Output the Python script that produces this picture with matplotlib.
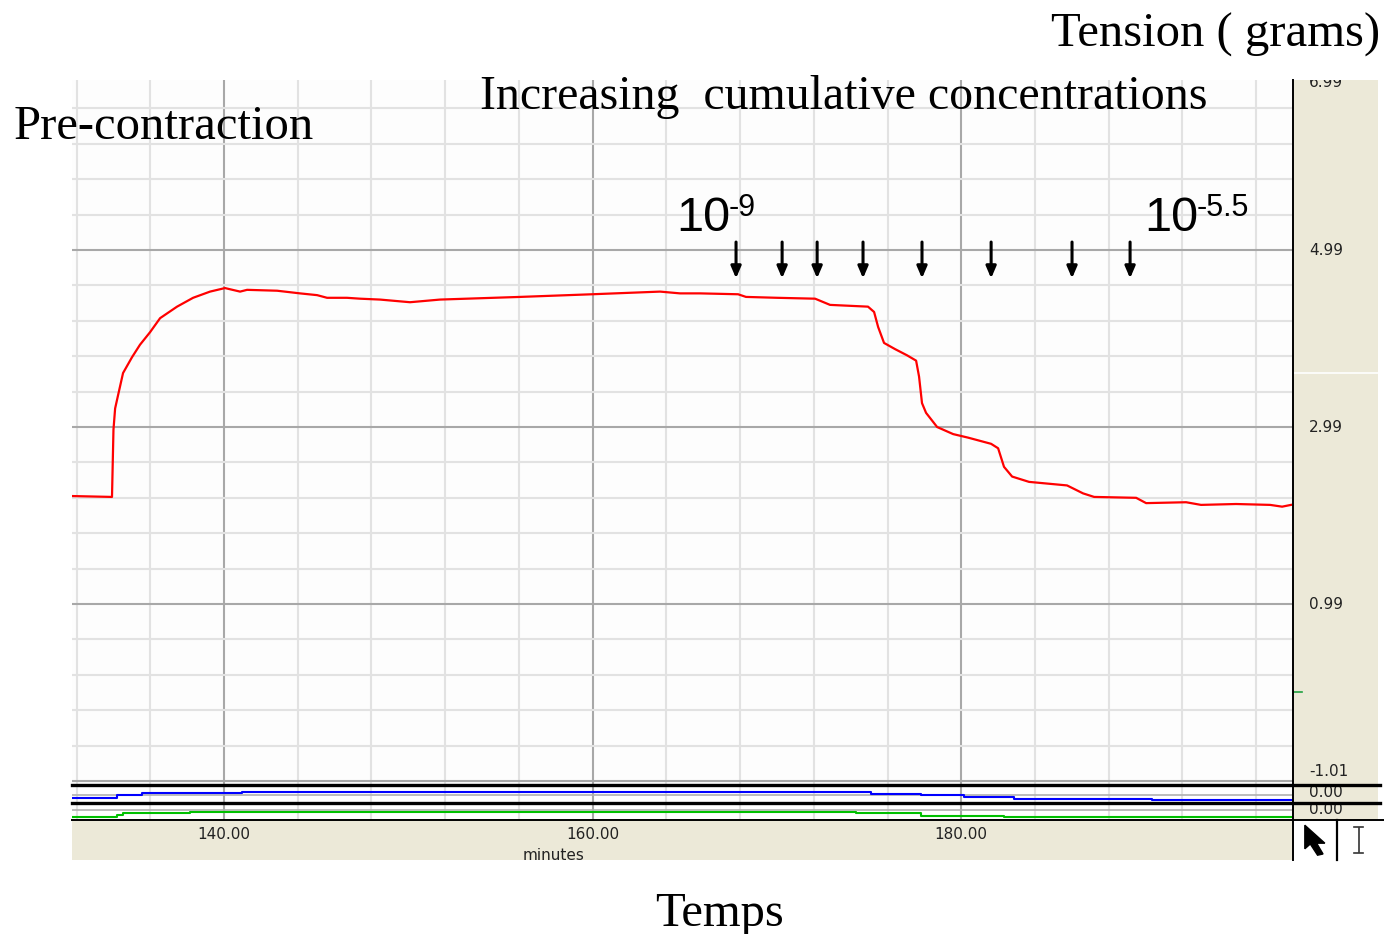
import numpy as np
import matplotlib.pyplot as plt
from matplotlib.lines import Line2D
from matplotlib.patches import Polygon

W, H = 1384, 934

# tension trace (minutes, grams)
t_trace = [131.75, 133.92, 134.00, 134.09, 134.25, 134.52, 135.01, 135.44, 135.98,
           136.53, 137.45, 138.32, 139.24, 140.05, 140.87, 141.25, 142.88, 144.12,
           145.05, 145.59, 146.67, 147.38, 148.46, 150.09, 151.72, 156.06, 159.97,
           163.66, 164.74, 165.83, 167.89, 168.32, 170.01, 172.07, 172.88, 174.94,
           175.27, 175.49, 175.81, 176.41, 177.06, 177.55, 177.71, 177.87, 178.09,
           178.69, 179.56, 180.37, 181.62, 182.00, 182.32, 182.76, 183.68, 185.74,
           186.61, 187.21, 189.49, 190.03, 192.20, 193.01, 194.91, 196.76, 197.41,
           197.89]
tension = [2.21, 2.20, 2.96, 3.20, 3.35, 3.60, 3.78, 3.92, 4.06,
           4.22, 4.35, 4.45, 4.52, 4.56, 4.52, 4.54, 4.53, 4.50,
           4.48, 4.45, 4.45, 4.44, 4.43, 4.40, 4.43, 4.46, 4.49,
           4.52, 4.50, 4.50, 4.49, 4.46, 4.45, 4.44, 4.37, 4.35,
           4.29, 4.12, 3.94, 3.87, 3.80, 3.74, 3.56, 3.26, 3.15,
           2.99, 2.91, 2.87, 2.80, 2.75, 2.54, 2.43, 2.37, 2.33,
           2.24, 2.20, 2.19, 2.13, 2.14, 2.11, 2.12, 2.11, 2.09,
           2.11]

# times of each cumulative addition
doses_t = [167.78, 170.28, 172.18, 174.67, 177.87, 181.62, 186.01, 189.16]

# auxiliary channels (relative level within their strip)
blue_t = [131.75, 134.19, 135.55, 140.98, 175.11, 177.82, 180.15, 182.87, 190.35, 198.0]
blue_v = [0.28, 0.42, 0.53, 0.59, 0.50, 0.43, 0.33, 0.24, 0.17, 0.17]
green_t = [131.75, 134.19, 134.52, 138.16, 174.29, 177.82, 182.32, 198.0]
green_v = [0.18, 0.29, 0.39, 0.45, 0.39, 0.25, 0.16, 0.16]

y_labels = [6.99, 4.99, 2.99, 0.99, -1.01]
x_labels = [140, 160, 180]

XMIN, XMAX = 131.75, 198.0
YMIN, YMAX = -1.055, 6.911
BEIGE = '#ECE9D8'
SERIF = 'Liberation Serif'
TICK_FS = 11


def box(x0, y0, x1, y1):
    # axes placed by pixel edges (top-left origin)
    return fig.add_axes([x0 / W, 1 - y1 / H, (x1 - x0) / W, (y1 - y0) / H])


def fx(x):
    return x / W


def fy(y):
    return 1 - y / H


def vgrid(a):
    for t in np.arange(132, 198, 4):
        major = t % 20 == 0
        a.axvline(t, color='#A8A8A8' if major else '#E2E2E2', lw=1.5, zorder=0)


def bare(a):
    a.set_xticks([])
    a.set_yticks([])
    for sp in a.spines.values():
        sp.set_visible(False)


fig = plt.figure(figsize=(W / 100, H / 100), dpi=100)

# main tension panel
ax = box(72, 80, 1293, 785)
ax.set_facecolor('#FDFDFD')
ax.set_xlim(XMIN, XMAX)
ax.set_ylim(YMIN, YMAX)
vgrid(ax)
for i, v in enumerate(np.arange(-1.01, 7.0, 0.4)):
    major = i % 5 == 0
    ax.axhline(v, color='#A8A8A8' if major else '#E2E2E2', lw=1.5, zorder=0)
ax.plot(t_trace, tension, color='#FF0000', lw=1.6, zorder=3)
for t in doses_t:
    ax.annotate('', xy=(t, 4.67), xytext=(t, 5.08),
                arrowprops=dict(arrowstyle='-|>,head_length=0.7,head_width=0.3',
                                color='black', lw=2.2, shrinkA=0, shrinkB=0))
bare(ax)

# auxiliary strips
for (y0, y1, tt, vv, col, ref) in [(785, 803, blue_t, blue_v, '#0000FF', 0.44),
                                   (803, 820, green_t, green_v, '#00C000', 0.56)]:
    s = box(72, y0, 1293, y1)
    s.set_facecolor('white')
    s.set_xlim(XMIN, XMAX)
    s.set_ylim(0, 1)
    vgrid(s)
    s.axhline(ref, color='#B0B0B0', lw=1.2, zorder=1)
    s.plot(tt, vv, color=col, lw=1.5, drawstyle='steps-post', zorder=2)
    bare(s)

# time axis
tx = box(72, 820, 1293, 860)
tx.set_facecolor(BEIGE)
tx.set_xlim(XMIN, XMAX)
tx.set_ylim(1, 0)
for t in x_labels:
    tx.text(t, 0.37, f'{t:.2f}', ha='center', va='center', fontsize=TICK_FS,
            color='#222222')
tx.text(157.9, 0.88, 'minutes', ha='center', va='center', fontsize=TICK_FS,
        color='#222222', clip_on=True)
bare(tx)

# value axis panel
ry = box(1293, 80, 1378, 785)
ry.set_facecolor(BEIGE)
ry.set_xlim(0, 1)
ry.set_ylim(YMIN, YMAX)
for v in y_labels:
    shift = -0.11 if v > 6 else (0.11 if v < 0 else 0)
    ry.text(0.19, v + shift, f'{v:.2f}', ha='left', va='center', fontsize=TICK_FS,
            color='#222222', clip_on=True)
ry.plot([0, 0.11], [0, 0], color='#20A040', lw=1.2)
ry.axhline(3.6, color='white', lw=1.2)
bare(ry)

for (y0, y1) in [(785, 803), (803, 820)]:
    r = box(1293, y0, 1378, y1)
    r.set_facecolor(BEIGE)
    r.set_xlim(0, 1)
    r.set_ylim(0, 1)
    r.text(0.19, 0.6, '0.00', ha='left', va='center', fontsize=TICK_FS,
           color='#222222', clip_on=True)
    bare(r)

# tool cell with pointer and text cursor
ic = box(1293, 820, 1384, 860)
ic.set_xlim(0, 1)
ic.set_ylim(1, 0)
ic.add_patch(Polygon([(0.13, 0.13), (0.13, 0.72), (0.19, 0.60), (0.27, 0.88),
                      (0.33, 0.85), (0.26, 0.58), (0.35, 0.58)],
                     closed=True, color='black'))
ic.plot([0.72, 0.72], [0.20, 0.80], color='#333333', lw=1.2)
ic.plot([0.67, 0.77], [0.18, 0.18], color='#333333', lw=1.2)
ic.plot([0.67, 0.77], [0.82, 0.82], color='#333333', lw=1.2)
ic.axis('off')

# frame lines shared across panels
for (xa, xb, y, lw) in [(72, 1380, 785, 2.4), (72, 1380, 803, 2.4),
                        (72, 1384, 820, 1.4)]:
    fig.add_artist(Line2D([fx(xa), fx(xb)], [fy(y), fy(y)], color='black', lw=lw))
fig.add_artist(Line2D([fx(1293), fx(1293)], [fy(80), fy(860)], color='black', lw=1.4))
fig.add_artist(Line2D([fx(1337), fx(1337)], [fy(820), fy(860)], color='black', lw=1.6))

# dose labels
fig.text(fx(676), fy(231), '10', fontsize=35, family='Liberation Sans', va='baseline')
fig.text(fx(729), fy(216), '-9', fontsize=22, family='Liberation Sans', va='baseline')
fig.text(fx(1144), fy(231), '10', fontsize=35, family='Liberation Sans', va='baseline')
fig.text(fx(1197), fy(216), '-5.5', fontsize=22, family='Liberation Sans', va='baseline')

# slide annotations
fig.text(fx(1380), fy(47), 'Tension ( grams)', fontsize=35, family=SERIF,
         ha='right', va='baseline')
fig.text(fx(14), fy(139), 'Pre-contraction', fontsize=35, family=SERIF,
         va='baseline')
fig.text(fx(480), fy(109), 'Increasing  cumulative concentrations', fontsize=34.5,
         family=SERIF, va='baseline')
fig.text(fx(720), fy(926), 'Temps', fontsize=35, family=SERIF, ha='center',
         va='baseline')

fig.savefig('out.png', dpi=100, facecolor='white')
